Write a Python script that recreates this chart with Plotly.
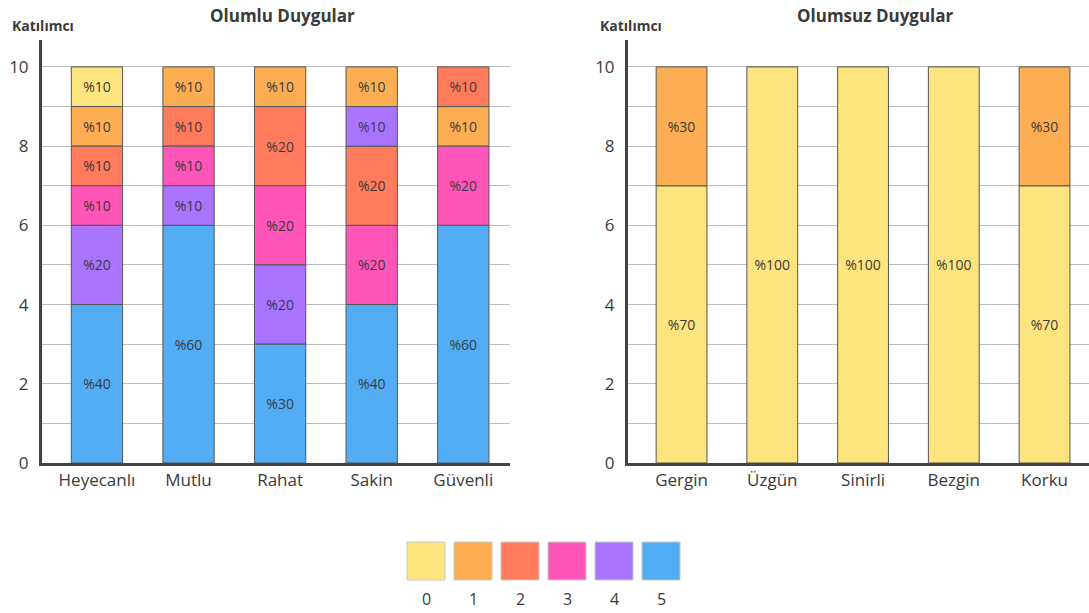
import plotly.graph_objects as go

# Response levels 0..5 and their colours
LEVELS = [0, 1, 2, 3, 4, 5]
LEVEL_COLORS = ["#FDE47F", "#FDAE53", "#FF7B5C", "#FF55B8", "#A974FF", "#52ADF5"]

# Positive emotions: participant counts per level
pos_categories = ["Heyecanlı", "Mutlu", "Rahat", "Sakin", "Güvenli"]
pos_level_0 = [1, 0, 0, 0, 0]
pos_level_1 = [1, 1, 1, 1, 1]
pos_level_2 = [1, 1, 2, 2, 1]
pos_level_3 = [1, 1, 2, 2, 2]
pos_level_4 = [2, 1, 2, 1, 0]
pos_level_5 = [4, 6, 3, 4, 6]
# bottom-to-top stacking order of the levels within each bar
pos_stack_order = [
    [5, 4, 3, 2, 1, 0],
    [5, 4, 3, 2, 1, 0],
    [5, 4, 3, 2, 1, 0],
    [5, 3, 2, 4, 1, 0],
    [5, 3, 1, 2, 4, 0],
]

# Negative emotions
neg_categories = ["Gergin", "Üzgün", "Sinirli", "Bezgin", "Korku"]
neg_level_0 = [7, 10, 10, 10, 7]
neg_level_1 = [3, 0, 0, 0, 3]
neg_stack_order = [[0, 1]] * 5

TOTAL = 10
y_ticks = list(range(0, 11))
y_ticktext = [str(v) if v % 2 == 0 else "" for v in y_ticks]

FONT = "Open Sans"
TEXT = "#3a3a3a"
AXIS = "#444444"
GRID = "#bdbdbd"

fig = go.Figure()


def add_stacked(cats, counts_by_level, orders, xa, ya):
    n = len(cats)
    bases = {lvl: [0] * n for lvl in counts_by_level}
    for i in range(n):
        run = 0
        for lvl in orders[i]:
            if lvl in counts_by_level:
                bases[lvl][i] = run
                run += counts_by_level[lvl][i]
    for lvl, vals in counts_by_level.items():
        if not any(vals):
            continue
        fig.add_trace(go.Bar(
            x=cats,
            y=[v if v > 0 else None for v in vals],
            base=bases[lvl],
            text=[f"%{round(v * 100 / TOTAL)}" if v > 0 else "" for v in vals],
            textposition="inside",
            insidetextanchor="middle",
            constraintext="none",
            textangle=0,
            textfont=dict(family=FONT, size=14, color=TEXT),
            marker=dict(color=LEVEL_COLORS[lvl], line=dict(color="#555555", width=1)),
            width=0.56,
            xaxis=xa, yaxis=ya,
            name=str(lvl), showlegend=False,
            hovertemplate="%{x}: %{y}<extra>" + str(lvl) + "</extra>",
        ))


add_stacked(pos_categories,
            {0: pos_level_0, 1: pos_level_1, 2: pos_level_2,
             3: pos_level_3, 4: pos_level_4, 5: pos_level_5},
            pos_stack_order, "x", "y")
add_stacked(neg_categories,
            {0: neg_level_0, 1: neg_level_1},
            neg_stack_order, "x2", "y2")

W, H = 1089, 613
M_T, M_B = 40, 150
plot_h = H - M_T - M_B


def px_x(px):
    return px / W


def px_y(py):
    return (H - M_B - py) / plot_h


xaxis_common = dict(
    showline=True, linecolor=AXIS, linewidth=3, ticks="",
    tickfont=dict(family=FONT, size=17, color=TEXT), showgrid=False,
    ticklabelstandoff=0, fixedrange=True,
)
yaxis_common = dict(
    range=[0, 10.68], tickmode="array", tickvals=y_ticks, ticktext=y_ticktext,
    showgrid=True, gridcolor=GRID, gridwidth=1, zeroline=False,
    showline=True, linecolor=AXIS, linewidth=3, ticks="",
    tickfont=dict(family=FONT, size=17, color=TEXT), ticklabelstandoff=7,
    fixedrange=True,
)

fig.update_layout(
    width=W, height=H,
    margin=dict(l=0, r=0, t=M_T, b=M_B),
    paper_bgcolor="white", plot_bgcolor="white",
    barmode="overlay",
    font=dict(family=FONT, color=TEXT),
    xaxis=dict(domain=[px_x(42), px_x(510)], anchor="y", range=[-0.6, 4.51],
               **xaxis_common),
    yaxis=dict(domain=[0, 1], anchor="x", **yaxis_common),
    xaxis2=dict(domain=[px_x(628), 1.0], anchor="y2", range=[-0.59, 4.49],
                **xaxis_common),
    yaxis2=dict(domain=[0, 1], anchor="x2", **yaxis_common),
)

annotations = [
    dict(text="<b>Olumlu Duygular</b>", x=px_x(282), y=px_y(15),
         font=dict(size=17, color=TEXT)),
    dict(text="<b>Olumsuz Duygular</b>", x=px_x(875), y=px_y(15),
         font=dict(size=17, color=TEXT)),
    dict(text="<b>Katılımcı</b>", x=px_x(10), y=px_y(25), xanchor="left",
         font=dict(size=14, color=TEXT)),
    dict(text="<b>Katılımcı</b>", x=px_x(598), y=px_y(25), xanchor="left",
         font=dict(size=14, color=TEXT)),
]

# Colour key beneath the charts
shapes = []
key_left, key_step, key_size = 407, 47, 38
key_top = 542
for i, lvl in enumerate(LEVELS):
    x0 = key_left + i * key_step
    shapes.append(dict(
        type="rect", xref="paper", yref="paper",
        x0=px_x(x0), x1=px_x(x0 + key_size),
        y0=px_y(key_top + key_size), y1=px_y(key_top),
        fillcolor=LEVEL_COLORS[lvl], line=dict(color="#c8c8c8", width=1),
    ))
    annotations.append(dict(
        text=str(lvl), x=px_x(x0 + key_size / 2), y=px_y(599),
        font=dict(size=16, color=TEXT),
    ))

for a in annotations:
    a.update(xref="paper", yref="paper", showarrow=False)
    a.setdefault("xanchor", "center")
    a.setdefault("yanchor", "middle")

fig.update_layout(annotations=annotations, shapes=shapes)

fig.write_html("out.html", config={"displayModeBar": False})
